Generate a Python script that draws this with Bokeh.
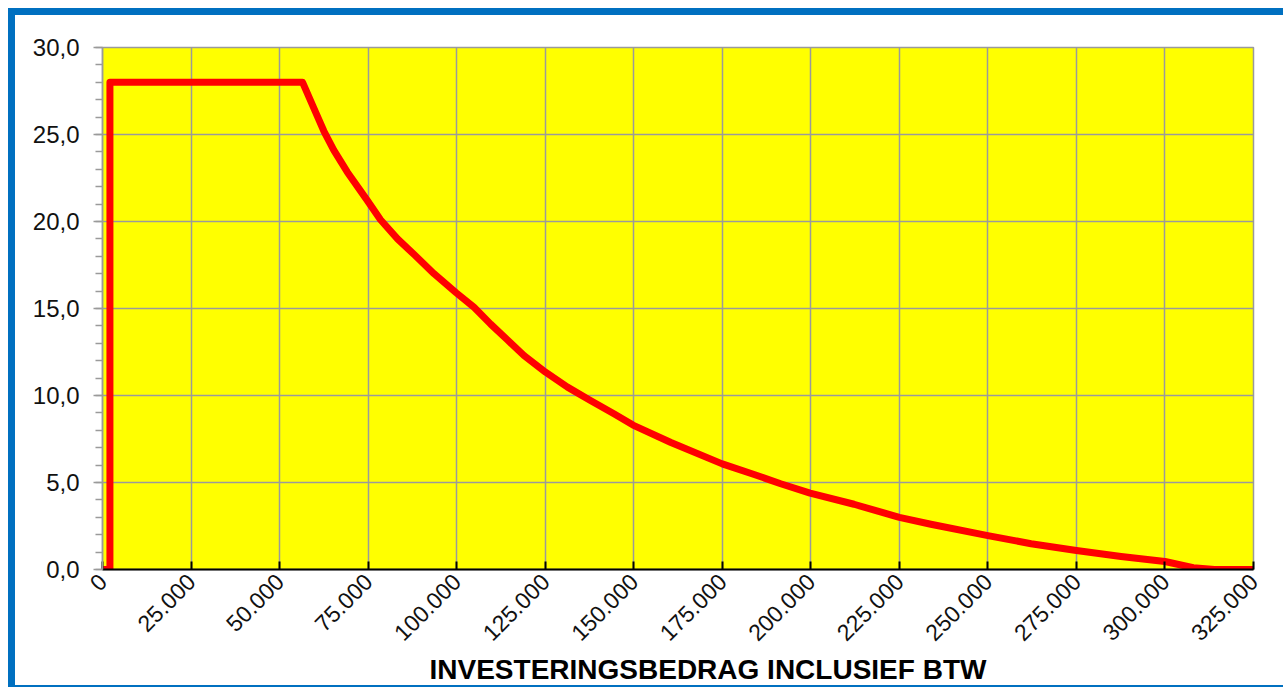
from bokeh.plotting import figure
from bokeh.models import FixedTicker, Title, ColumnDataSource
from bokeh.embed import file_html
from bokeh.resources import INLINE

# ---- data ----
invest = [0, 2100, 2100, 56500, 59700, 62500, 65300, 69100, 74800, 78500, 83300,
          88000, 93600, 99900, 104900, 109600, 114300, 119000, 125100, 131300,
          137900, 144400, 149800, 160500, 175000, 184000, 191500, 199800, 212200,
          225000, 233900, 250000, 262200, 275000, 287600, 300000, 308000, 314000,
          325000]
percent = [0.0, 0.0, 28.0, 28.0, 26.5, 25.2, 24.1, 22.85, 21.2, 20.1, 19.0,
           18.1, 17.0, 15.9, 15.07, 14.1, 13.2, 12.3, 11.34, 10.48,
           9.7, 8.95, 8.3, 7.3, 6.07, 5.46, 4.93, 4.39, 3.75,
           3.0, 2.6, 1.95, 1.48, 1.09, 0.75, 0.46, 0.1, 0.0,
           0.0]

x_ticks = [0, 25000, 50000, 75000, 100000, 125000, 150000, 175000, 200000,
           225000, 250000, 275000, 300000, 325000]
x_tick_labels = ["0", "25.000", "50.000", "75.000", "100.000", "125.000", "150.000",
                 "175.000", "200.000", "225.000", "250.000", "275.000", "300.000", "325.000"]
y_ticks = [0, 5, 10, 15, 20, 25, 30]
y_tick_labels = ["0,0", "5,0", "10,0", "15,0", "20,0", "25,0", "30,0"]
y_minor = list(range(0, 31))
x_title = "INVESTERINGSBEDRAG INCLUSIEF  BTW"

FONT = "Liberation Sans"
GRID = "#9A9A9A"
BLUE = "#0070C0"

p = figure(width=1268, height=670, output_backend="svg", toolbar_location=None,
           x_range=(0, 325000), y_range=(0, 30),
           min_border_left=87, min_border_top=32, min_border_right=30,
           min_border_bottom=116)
# blue chart frame (left, top and the visible bit of the bottom edge)
p.styles = {"margin-left": "15px", "margin-top": "15px",
            "box-shadow": (f"-7px -7px 0 0 {BLUE}, 0 -7px 0 0 {BLUE}, "
                           f"0 2px 0 0 {BLUE}, -7px 2px 0 0 {BLUE}")}
p.background_fill_color = "#FFFF00"
p.border_fill_color = "white"
p.outline_line_color = GRID
p.outline_line_width = 1.5

src = ColumnDataSource(dict(x=invest, y=percent))
p.line("x", "y", source=src, line_color="#FF0000", line_width=7,
       line_join="round", line_cap="round")

p.xgrid.ticker = FixedTicker(ticks=x_ticks)
p.ygrid.ticker = FixedTicker(ticks=y_ticks)
for g in (p.xgrid, p.ygrid):
    g.grid_line_color = GRID
    g.grid_line_width = 1.5

xa = p.xaxis[0]
xa.ticker = FixedTicker(ticks=x_ticks)
xa.major_label_overrides = {float(t): l for t, l in zip(x_ticks, x_tick_labels)}
xa.major_label_orientation = 0.785398
xa.major_label_text_font = FONT
xa.major_label_text_font_size = "23px"
xa.major_label_text_color = "#111111"
xa.major_label_standoff = 8
xa.axis_line_color = "black"
xa.axis_line_width = 2
xa.major_tick_line_color = "black"
xa.major_tick_line_width = 2
xa.major_tick_in = 8
xa.major_tick_out = 0
xa.minor_tick_line_color = None

ya = p.yaxis[0]
ya.ticker = FixedTicker(ticks=y_ticks, minor_ticks=y_minor)
ya.major_label_overrides = {float(t): l for t, l in zip(y_ticks, y_tick_labels)}
ya.major_label_text_font = FONT
ya.major_label_text_font_size = "24px"
ya.major_label_text_color = "#111111"
ya.major_label_standoff = 14
ya.axis_line_color = GRID
ya.axis_line_width = 1.5
ya.major_tick_line_color = GRID
ya.major_tick_line_width = 1.5
ya.major_tick_in = 0
ya.major_tick_out = 9
ya.minor_tick_line_color = GRID
ya.minor_tick_line_width = 1.5
ya.minor_tick_in = 0
ya.minor_tick_out = 7

t = Title(text=x_title, align="left", offset=327, text_font=FONT,
          text_font_size="28px", text_font_style="bold", text_color="black",
          standoff=0)
p.add_layout(t, "below")

open("out.html", "w").write(file_html(p, INLINE))
